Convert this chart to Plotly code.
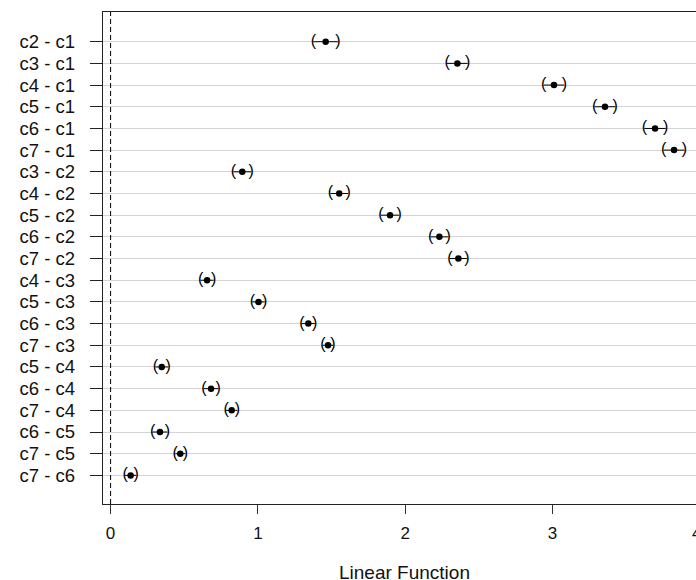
import plotly.graph_objects as go

# Comparisons (top to bottom)
comparisons = ["c2 - c1", "c3 - c1", "c4 - c1", "c5 - c1", "c6 - c1", "c7 - c1",
               "c3 - c2", "c4 - c2", "c5 - c2", "c6 - c2", "c7 - c2",
               "c4 - c3", "c5 - c3", "c6 - c3", "c7 - c3",
               "c5 - c4", "c6 - c4", "c7 - c4",
               "c6 - c5", "c7 - c5", "c7 - c6"]
estimate = [1.460, 2.354, 3.010, 3.356, 3.696, 3.825,
            0.894, 1.552, 1.897, 2.232, 2.361,
            0.655, 1.004, 1.342, 1.476,
            0.347, 0.682, 0.822,
            0.335, 0.473, 0.136]
lower = [1.377, 2.284, 2.940, 3.286, 3.624, 3.755,
         0.834, 1.492, 1.835, 2.172, 2.303,
         0.611, 0.962, 1.298, 1.442,
         0.304, 0.633, 0.784,
         0.285, 0.439, 0.098]
upper = [1.543, 2.424, 3.080, 3.426, 3.768, 3.895,
         0.954, 1.612, 1.959, 2.292, 2.419,
         0.699, 1.046, 1.386, 1.510,
         0.390, 0.731, 0.860,
         0.385, 0.507, 0.174]
x_ticks = [0, 1, 2, 3]
x_title = "Linear Function"

FONT = "Liberation Sans, Arial, Helvetica, sans-serif"

fig = go.Figure()

# interval segments
seg_x, seg_y = [], []
for c, lo, hi in zip(comparisons, lower, upper):
    seg_x += [lo, hi, None]
    seg_y += [c, c, None]
fig.add_trace(go.Scatter(x=seg_x, y=seg_y, mode="lines",
                         line=dict(color="black", width=1), hoverinfo="skip",
                         showlegend=False))

# brackets
fig.add_trace(go.Scatter(x=lower, y=comparisons, mode="text", text=["("] * len(lower),
                         textposition="middle center",
                         textfont=dict(family=FONT, size=16, color="black"),
                         showlegend=False, hoverinfo="skip"))
fig.add_trace(go.Scatter(x=upper, y=comparisons, mode="text", text=[")"] * len(upper),
                         textposition="middle center",
                         textfont=dict(family=FONT, size=16, color="black"),
                         showlegend=False, hoverinfo="skip"))

# estimates
fig.add_trace(go.Scatter(x=estimate, y=comparisons, mode="markers",
                         marker=dict(color="black", size=6.5, symbol="circle"),
                         showlegend=False))

# dashed zero line
fig.add_shape(type="line", xref="x", yref="paper", x0=0, x1=0, y0=0, y1=1,
              line=dict(color="black", width=1, dash="5px,3px"), layer="above")

n = len(comparisons)
fig.update_layout(
    width=696, height=580,
    margin=dict(l=103, r=0, t=12, b=76),
    paper_bgcolor="white", plot_bgcolor="white",
    font=dict(family=FONT, color="#111111"),
    showlegend=False,
    xaxis=dict(range=[-0.0516, 3.974], tickvals=x_ticks, ticks="outside", ticklen=9,
               tickwidth=1.3, tickcolor="#333333",
               showline=True, linecolor="#222222", linewidth=1.4, mirror=True,
               showgrid=False, zeroline=False,
               tickfont=dict(size=17, family=FONT, color="#111111"),
               ticklabelstandoff=4),
    yaxis=dict(type="category", categoryorder="array", categoryarray=comparisons,
               tickmode="array", tickvals=comparisons, ticktext=comparisons,
               range=[n - 1 + 1.32, -1.37], ticks="outside", ticklen=12,
               tickwidth=1.3, tickcolor="#222222",
               showline=True, linecolor="#222222", linewidth=1.4, mirror=False,
               showgrid=True, gridcolor="#d4d4d4", gridwidth=1.2, zeroline=False,
               tickfont=dict(size=18.5, family=FONT, color="#111111"),
               ticklabelstandoff=11),
)

# partially visible "4" tick label at the right edge (just past the plot area)
fig.add_annotation(x=1.0013, xref="paper", y=-0.0595, yref="paper", text="4",
                   showarrow=False, xanchor="center", yanchor="middle",
                   font=dict(size=17, family=FONT, color="#111111"))

# x-axis title
fig.add_annotation(x=0.5076, xref="paper", y=-0.140, yref="paper", text=x_title,
                   showarrow=False, xanchor="center", yanchor="middle",
                   font=dict(size=19, family=FONT, color="#111111"))

fig.write_html("out.html", config={"displayModeBar": False},
               post_script="document.body.style.margin='0';document.body.style.overflow='hidden';")
